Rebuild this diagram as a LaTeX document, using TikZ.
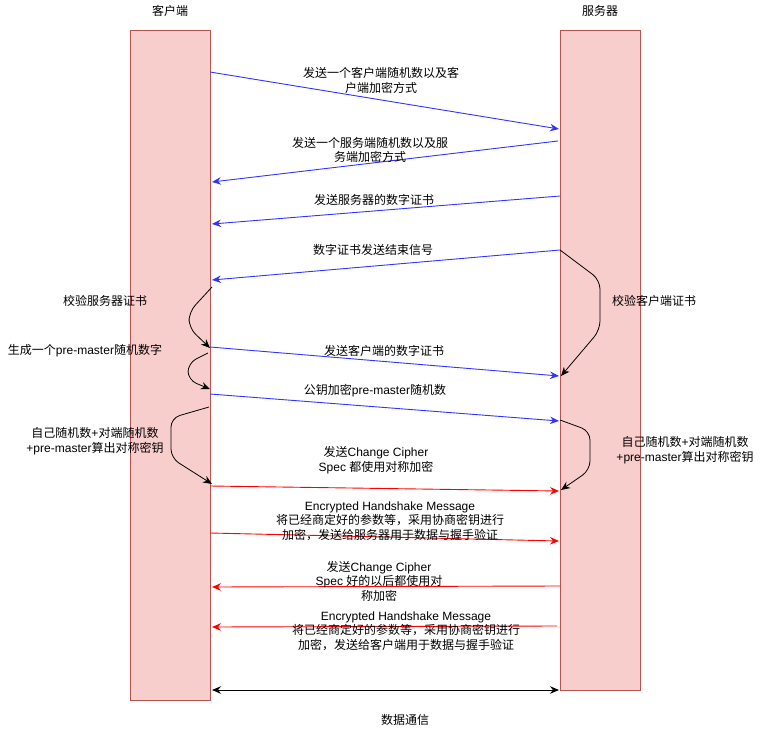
\documentclass[tikz,border=0pt]{standalone}
\usepackage{fontspec}
\setmainfont{Liberation Sans}
\newfontfamily\cj{Noto Sans CJK SC}
\usetikzlibrary{arrows.meta}
\definecolor{boxfill}{HTML}{F8CECC}
\definecolor{boxline}{HTML}{B85450}
\definecolor{msgblue}{HTML}{3333FF}
\definecolor{msgred}{HTML}{FF0000}
\begin{document}
\begin{tikzpicture}[x=1pt,y=-1pt,
  lifeline/.style={draw=boxline,fill=boxfill,line width=0.8pt,minimum width=80pt,inner sep=0pt,outer sep=0pt},
  lbl/.style={font=\fontsize{12}{14.5}\selectfont, align=center, inner sep=0pt},
  tipped/.style={-{Stealth[length=9pt,width=7.5pt,inset=3pt]}},
  bluemsg/.style={tipped,draw=msgblue,line width=0.9pt},
  redmsg/.style={tipped,draw=msgred,line width=0.9pt},
  selfmsg/.style={tipped,draw=black,line width=0.8pt,rounded corners=9pt},
  datamsg/.style={{Stealth[length=9pt,width=7.5pt,inset=3pt]}-{Stealth[length=9pt,width=7.5pt,inset=3pt]},draw=black,line width=0.9pt}
]
\useasboundingbox (0,0) rectangle (761,731);
\fill[white] (0,0) rectangle (761,731);

% lifelines
\node[lifeline,minimum height=670pt] (client) at (170,365) {};
\node[lifeline,minimum height=660pt] (server) at (600,360) {};
\node[lbl] (clientT) at (170,11) {\cj 客户端};
\node[lbl] (serverT) at (600,11) {\cj 服务器};

% endpoints
\coordinate (a1s) at (210,72);  \coordinate (a1e) at (559,129);
\coordinate (a2s) at (558,141); \coordinate (a2e) at (212,182);
\coordinate (a3s) at (560,196); \coordinate (a3e) at (212,224);
\coordinate (a4s) at (560,250); \coordinate (a4e) at (212,280);
\coordinate (a7s) at (210,347); \coordinate (a7e) at (559,376);
\coordinate (a9s) at (210,394); \coordinate (a9e) at (559,421);
\coordinate (a12s) at (210,486); \coordinate (a12e) at (559,491);
\coordinate (a13s) at (210,533); \coordinate (a13e) at (559,541);
\coordinate (a14s) at (560,586); \coordinate (a14e) at (212,587);
\coordinate (a15s) at (557,626); \coordinate (a15e) at (212,627);
\coordinate (a16s) at (212,690); \coordinate (a16e) at (559,690);

\coordinate (c5s) at (212,287);  \coordinate (c5e) at (210,348);
\coordinate (c8s) at (208,353);  \coordinate (c8e) at (210,389);
\coordinate (c10s) at (209,407); \coordinate (c10e) at (212,484);
\coordinate (c6s) at (560,250);  \coordinate (c6e) at (561,376);
\coordinate (c11s) at (560,420); \coordinate (c11e) at (561,490);

% blue messages
\draw[bluemsg] (a1s) -- (a1e);
\draw[bluemsg] (a2s) -- (a2e);
\draw[bluemsg] (a3s) -- (a3e);
\draw[bluemsg] (a4s) -- (a4e);
\draw[bluemsg] (a7s) -- (a7e);
\draw[bluemsg] (a9s) -- (a9e);
% red messages
\draw[redmsg] (a12s) -- (a12e);
\draw[redmsg] (a13s) -- (a13e);
\draw[redmsg] (a14s) -- (a14e);
\draw[redmsg] (a15s) -- (a15e);
% data
\draw[datamsg] (a16s) -- (a16e);

% self arrows
\draw[selfmsg] (c5s) -- (189,312) -- (189,328) -- (c5e);
\draw[selfmsg] (c8s) -- (188,363) -- (188,380) -- (c8e);
\draw[selfmsg] (c10s) -- (171,418) -- (171,458) -- (c10e);
\draw[selfmsg] (c6s) -- (600,280) -- (600,330) -- (c6e);
\draw[selfmsg] (c11s) -- (590,431) -- (590,470) -- (c11e);

% labels
\node[lbl] (l1) at (381,80.5) {{\cj 发送一个客户端随机数以及客}\\{\cj 户端加密方式}};
\node[lbl] (l2) at (370,150) {{\cj 发送一个服务端随机数以及服}\\{\cj 务端加密方式}};
\node[lbl] (l3) at (374,200) {\cj 发送服务器的数字证书};
\node[lbl] (l4) at (373,250) {\cj 数字证书发送结束信号};
\node[lbl] (l5) at (105,301) {\cj 校验服务器证书};
\node[lbl] (l6) at (654,301) {\cj 校验客户端证书};
\node[lbl] (l7) at (384,351) {\cj 发送客户端的数字证书};
\node[lbl] (l8) at (85,351) {{\cj 生成一个}pre-master{\cj 随机数字}};
\node[lbl] (l9) at (375,391) {{\cj 公钥加密}pre-master{\cj 随机数}};
\node[lbl] (l10) at (95,441) {{\cj 自己随机数}+{\cj 对端随机数}\\+pre-master{\cj 算出对称密钥}};
\node[lbl] (l11) at (685,450) {{\cj 自己随机数}+{\cj 对端随机数}\\+pre-master{\cj 算出对称密钥}};
\node[lbl] (l12) at (376,460) {{\cj 发送}Change Cipher\\Spec {\cj 都使用对称加密}};
\node[lbl] (l13) at (390,521) {Encrypted Handshake Message\\{\cj 将已经商定好的参数等，采用协商密钥进行}\\{\cj 加密，发送给服务器用于数据与握手验证}};
\node[lbl] (l14) at (379,581) {{\cj 发送}Change Cipher\\Spec {\cj 好的以后都使用对}\\{\cj 称加密}};
\node[lbl] (l15) at (406,631) {Encrypted Handshake Message\\{\cj 将已经商定好的参数等，采用协商密钥进行}\\{\cj 加密，发送给客户端用于数据与握手验证}};
\node[lbl] (l16) at (405,720) {\cj 数据通信};
\end{tikzpicture}
\end{document}
